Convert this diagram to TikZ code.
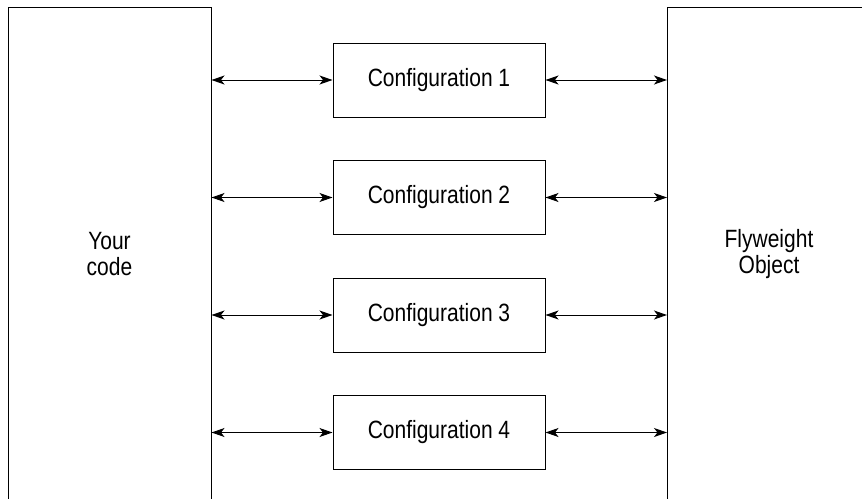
\documentclass[tikz,border=0pt]{standalone}
\usepackage{fontspec}
\setmainfont{Liberation Sans}[FakeStretch=0.84]
\usetikzlibrary{arrows.meta,positioning}

\tikzset{
  side box/.style={draw,line width=1pt,minimum width=203pt,minimum height=494pt,align=center,inner sep=0pt},
  config box/.style={draw,line width=1pt,minimum width=212pt,minimum height=74pt,inner sep=0pt},
  link/.style={line width=1pt,{Stealth[length=13pt,width=9pt,inset=3.5pt]}-{Stealth[length=13pt,width=9pt,inset=3.5pt]}},
}

\begin{document}
\begin{tikzpicture}[x=1pt,y=-1pt,font=\fontsize{25}{26}\selectfont]
  \useasboundingbox (0,0) rectangle (862,498);
  \clip (0,0) rectangle (862,498);

  % the two sides, running off the page
  \node[side box] (code) at (109.5,254) {Your\\code};
  \node[side box] (flyweight) at (769,254) {Flyweight\\Object};

  % configurations in between
  \node[config box] (cfg1) at (439,80) {Configuration 1};
  \node[config box,below=42.5pt of cfg1] (cfg2) {Configuration 2};
  \node[config box,below=42.5pt of cfg2] (cfg3) {Configuration 3};
  \node[config box,below=42.5pt of cfg3] (cfg4) {Configuration 4};

  \foreach \i in {1,...,4} {
    \draw[link] (cfg\i.west -| code.east) -- (cfg\i.west);
    \draw[link] (cfg\i.east) -- (cfg\i.east -| flyweight.west);
  }
\end{tikzpicture}
\end{document}
